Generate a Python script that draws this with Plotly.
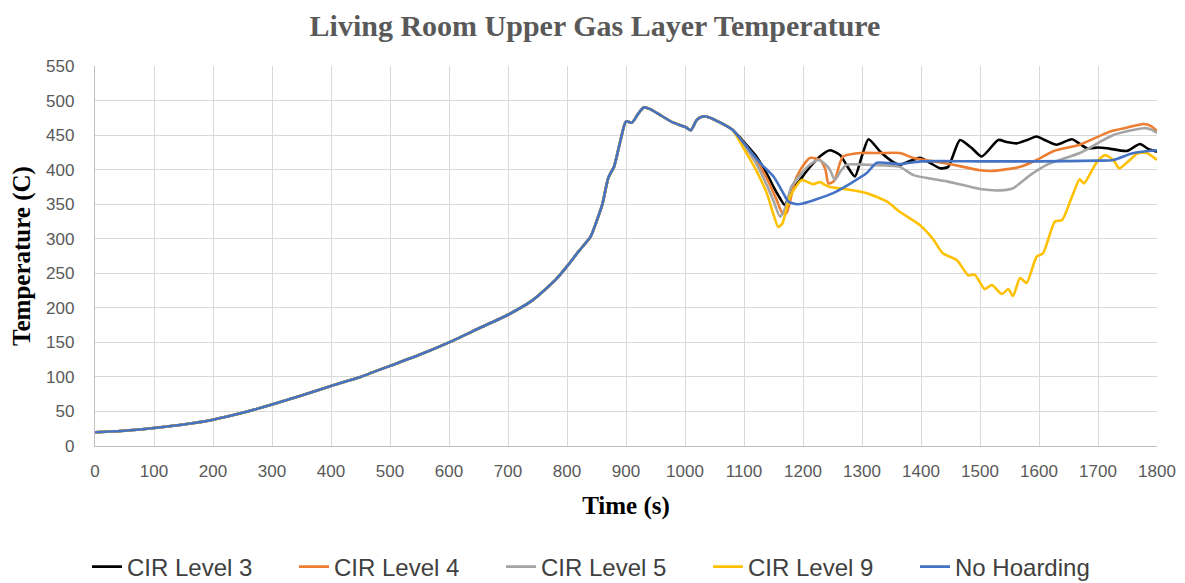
import plotly.graph_objects as go

# Shared early-fire curve (all scenarios coincide)
common_time = [0, 50, 100, 150, 200, 250, 300, 350, 400, 450, 500, 550, 600, 650, 700, 740,
               780, 800, 820, 840, 850, 860, 870, 880, 890, 900, 910, 920, 930, 940, 960, 980,
               1000, 1010, 1020, 1030, 1040, 1060, 1080]
common_temp = [20, 22, 26, 31, 38, 48, 60, 73, 87, 100, 116, 132, 150, 170, 190, 210,
               240, 260, 282, 303, 325, 350, 388, 405, 440, 470, 468, 480, 490, 488, 478, 468,
               462, 457, 472, 477, 476, 468, 458]

cir3_time = [1100, 1120, 1140, 1150, 1160, 1169, 1180, 1195, 1210, 1230, 1246, 1263, 1275, 1288,
             1300, 1311, 1331, 1353, 1364, 1380, 1398, 1415, 1432, 1446, 1466, 1485, 1503, 1531,
             1545, 1562, 1580, 1596, 1612, 1630, 1656, 1681, 1700, 1715, 1749, 1771, 1785, 1800]
cir3_temp = [440, 420, 392, 375, 360, 349, 368, 385, 402, 420, 428, 421, 405, 390,
             420, 444, 426, 411, 407, 412, 417, 410, 402, 404, 443, 432, 419, 443,
             440, 438, 443, 448, 442, 436, 444, 431, 432, 431, 427, 437, 430, 426]

cir4_time = [1100, 1120, 1140, 1155, 1165, 1172, 1185, 1195, 1212, 1229, 1238, 1243, 1250, 1254,
             1262, 1268, 1297, 1330, 1364, 1387, 1444, 1500, 1519, 1568, 1596, 1625, 1669, 1720,
             1750, 1777, 1790, 1800]
cir4_temp = [438, 415, 385, 357, 337, 337, 380, 399, 417, 414, 400, 380, 382, 385,
             408, 419, 424, 424, 424, 417, 409, 399, 398, 404, 414, 427, 436, 455,
             461, 466, 463, 456]

cir5_time = [1100, 1120, 1140, 1150, 1161, 1170, 1180, 1195, 1210, 1226, 1240, 1246, 1254, 1264,
             1274, 1308, 1364, 1387, 1444, 1500, 1534, 1556, 1585, 1613, 1669, 1726, 1777, 1790,
             1800]
cir5_temp = [435, 410, 375, 355, 332, 345, 375, 392, 406, 414, 406, 399, 385, 398,
             407, 407, 404, 392, 383, 372, 370, 373, 392, 407, 424, 450, 460, 458,
             453]

cir9_time = [1100, 1120, 1139, 1150, 1158, 1165, 1178, 1198, 1217, 1229, 1237, 1246, 1270, 1308,
             1342, 1364, 1398, 1420, 1437, 1461, 1480, 1491, 1508, 1520, 1537, 1548, 1556, 1568,
             1579, 1596, 1607, 1627, 1639, 1656, 1669, 1676, 1698, 1712, 1726, 1736, 1754, 1768,
             1783, 1800]
cir9_temp = [430, 400, 365, 335, 317, 322, 361, 385, 379, 382, 378, 375, 372, 366,
             354, 339, 320, 300, 279, 269, 247, 248, 227, 233, 220, 227, 217, 243,
             236, 274, 279, 325, 327, 361, 386, 380, 411, 421, 414, 402, 414, 424,
             424, 414]

noh_time = [1100, 1127, 1150, 1164, 1175, 1190, 1200, 1251, 1308, 1325, 1364, 1400, 1500, 1600,
            1700, 1726, 1760, 1800]
noh_temp = [438, 410, 390, 370, 354, 350, 351, 366, 395, 410, 408, 412, 412, 412,
            413, 414, 424, 428]

series_names = ["CIR Level 3", "CIR Level 4", "CIR Level 5", "CIR Level 9", "No Hoarding"]
series_colors = ["#000000", "#ED7D31", "#A5A5A5", "#FFC000", "#4472C4"]
series_tails = [(cir3_time, cir3_temp), (cir4_time, cir4_temp), (cir5_time, cir5_temp),
                (cir9_time, cir9_temp), (noh_time, noh_temp)]

x_ticks = list(range(0, 1801, 100))
y_ticks = list(range(0, 551, 50))

fig = go.Figure()
for name, color, (t, v) in zip(series_names, series_colors, series_tails):
    fig.add_trace(go.Scatter(
        x=common_time + t, y=common_temp + v, name=name, mode="lines",
        line=dict(color=color, width=2.6, shape="spline", smoothing=0.6),
    ))

tick_font = dict(family="Liberation Sans, Arial, sans-serif", size=17, color="#595959")
axis_title_font = dict(family="Liberation Serif, Times New Roman, serif", color="#000000", size=25)

# page has an 8px body margin, so the figure is sized to fill the rest of the window
W, H = 1177, 575
L, R, T, B = 87, 28, 58, 137

fig.update_layout(
    width=W, height=H,
    paper_bgcolor="white", plot_bgcolor="white",
    margin=dict(l=L, r=R, t=T, b=B, autoexpand=False),
    title=dict(text="<b>Living Room Upper Gas Layer Temperature</b>",
               x=(595 - 8) / W, xanchor="center", xref="container",
               y=1 - 17 / H, yanchor="middle", yref="container",
               font=dict(family="Liberation Serif, Times New Roman, serif", size=30, color="#595959")),
    showlegend=True,
    legend=dict(orientation="h", xref="container", x=79 / W, xanchor="left",
                yref="container", y=1 - 559 / H, yanchor="middle",
                font=dict(family="Liberation Sans, Arial, sans-serif", size=24, color="#404040"),
                entrywidth=162, entrywidthmode="pixels",
                tracegroupgap=0, traceorder="normal"),
    xaxis=dict(range=[0, 1800], tickvals=x_ticks, ticktext=[str(v) for v in x_ticks],
               showgrid=True, gridcolor="#D9D9D9", gridwidth=1.3,
               showline=True, linecolor="#BFBFBF", linewidth=1.3, zeroline=False,
               ticks="", tickfont=tick_font, ticklabelstandoff=9, automargin=False,
               title=dict(text="<b>Time (s)</b>", font=axis_title_font, standoff=16)),
    yaxis=dict(range=[0, 550], tickvals=y_ticks, ticktext=[str(v) for v in y_ticks],
               showgrid=True, gridcolor="#D9D9D9", gridwidth=1.3,
               showline=True, linecolor="#BFBFBF", linewidth=1.3, zeroline=False,
               ticks="", tickfont=tick_font, ticklabelstandoff=16, automargin=False,
               title=dict(text="<b>Temperature (C)</b>", font=axis_title_font, standoff=18)),
)

fig.write_html("out.html")
